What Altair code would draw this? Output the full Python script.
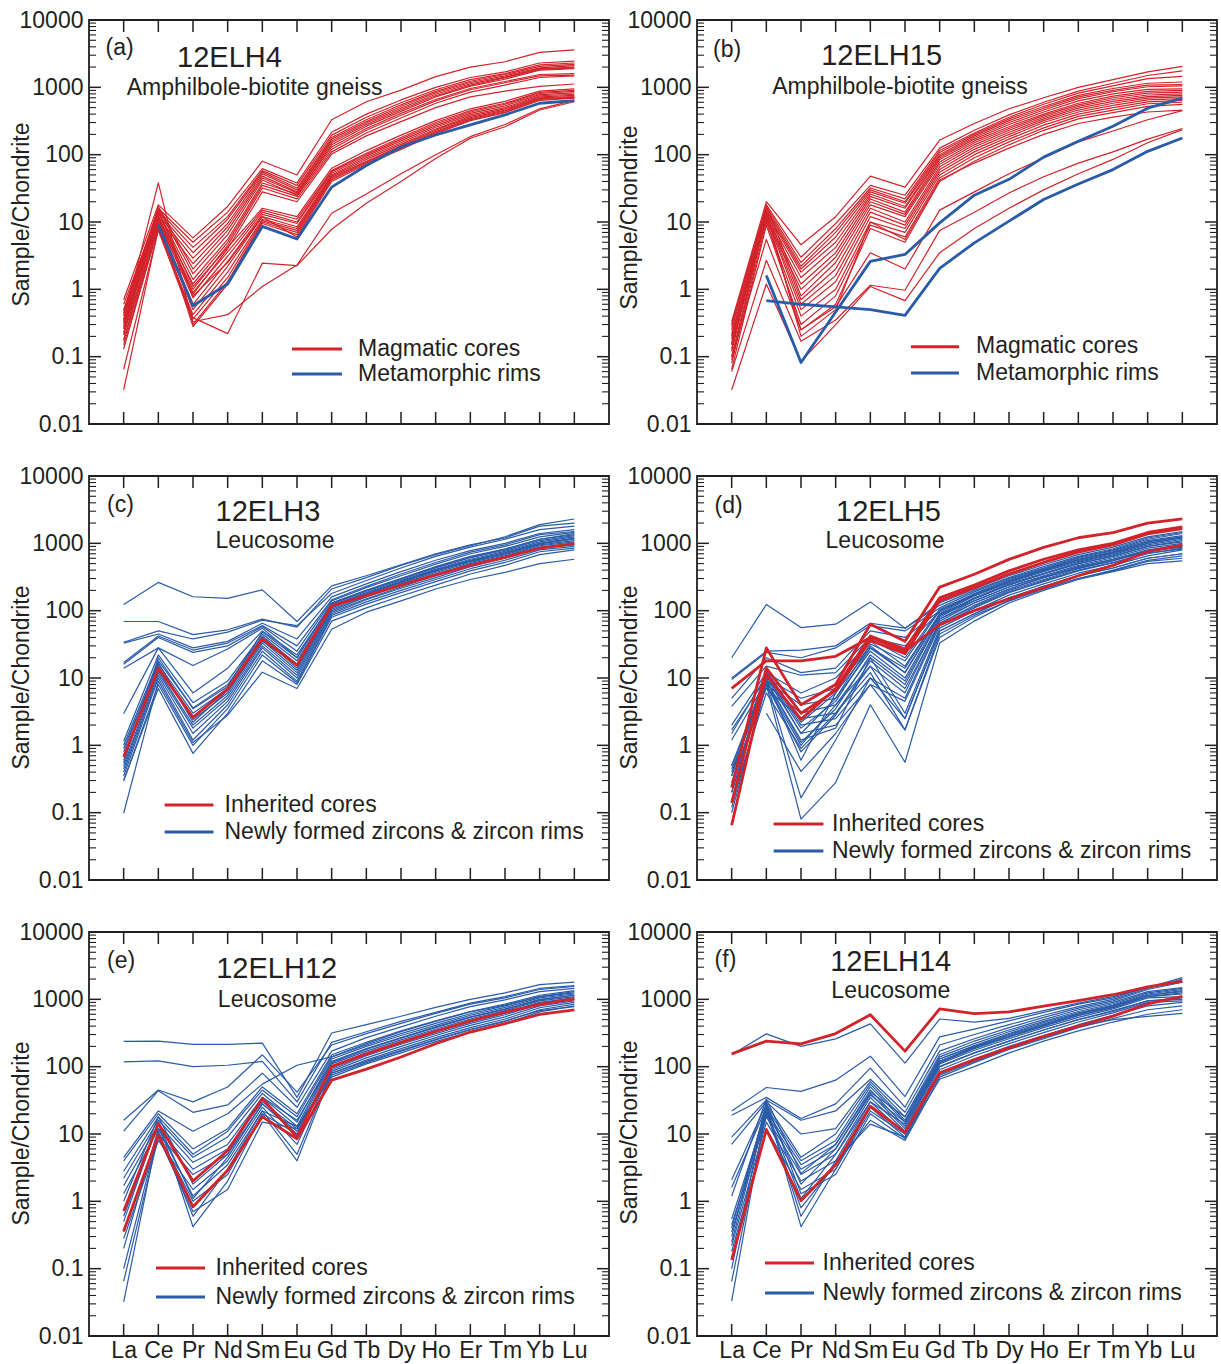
import json
import altair as alt
import pandas as pd

ELEMENTS = ["La", "Ce", "Pr", "Nd", "Sm", "Eu", "Gd", "Tb", "Dy", "Ho", "Er", "Tm", "Yb", "Lu"]
Y_LABELS = [0.01, 0.1, 1, 10, 100, 1000, 10000]
Y_MINOR = [round(m * 10.0 ** d, 6) for d in range(-2, 4) for m in range(2, 10)]

# ---------------- (a) 12ELH4 ----------------
A_RED = [
    [0.70, 18, 5.8, 17, 80, 50, 330, 610, 910, 1440, 2000, 2400, 3300, 3600],
    [0.48, 16, 5.0, 14, 62, 38, 215, 400, 650, 1000, 1400, 1700, 2300, 2450],
    [0.42, 15, 4.2, 12, 58, 35, 195, 360, 590, 920, 1300, 1600, 2150, 2300],
    [0.36, 14, 3.5, 11, 55, 32, 180, 330, 550, 870, 1230, 1550, 2050, 2200],
    [0.30, 13, 2.9, 9.5, 52, 30, 170, 310, 520, 830, 1180, 1480, 1950, 2100],
    [0.26, 12, 2.4, 8.5, 48, 28, 160, 295, 490, 790, 1130, 1420, 1900, 2000],
    [0.22, 17, 2.0, 7.5, 45, 27, 150, 280, 465, 750, 1080, 1380, 1850, 1950],
    [0.50, 16, 1.7, 6.5, 42, 25, 140, 265, 440, 720, 1040, 1320, 1800, 1900],
    [0.40, 14, 1.4, 5.5, 38, 26, 130, 245, 410, 660, 960, 1220, 1550, 1600],
    [0.33, 12, 1.2, 5.0, 35, 24, 120, 230, 385, 630, 920, 1170, 1480, 1520],
    [0.28, 11, 1.0, 4.5, 32, 22, 110, 210, 350, 580, 850, 1080, 1400, 1480],
    [0.18, 10, 0.85, 4.0, 28, 20, 102, 190, 310, 500, 720, 880, 1030, 1120],
    [0.60, 14, 1.1, 4.2, 16, 12, 63, 115, 195, 320, 480, 620, 880, 950],
    [0.32, 12, 0.9, 3.6, 15, 11, 58, 105, 180, 300, 450, 580, 840, 900],
    [0.26, 11, 0.75, 3.1, 14, 10, 56, 100, 170, 285, 430, 560, 810, 870],
    [0.21, 10, 0.6, 2.6, 13, 9.5, 53, 95, 160, 270, 410, 530, 780, 830],
    [0.17, 9, 0.5, 2.2, 12, 8.5, 50, 90, 150, 255, 390, 500, 750, 790],
    [0.15, 8, 0.42, 1.8, 11, 8, 48, 85, 142, 240, 370, 480, 720, 760],
    [0.13, 8.5, 0.36, 1.5, 10.5, 7.5, 46, 80, 135, 230, 355, 460, 700, 730],
    [0.35, 38, 0.30, 1.3, 10, 7, 44, 78, 130, 220, 340, 445, 680, 710],
    [0.23, 12, 0.28, 1.2, 9.5, 6.5, 42, 75, 125, 212, 330, 430, 660, 700],
    [0.45, 15, 0.8, 2.5, 12, 6, 40, 72, 120, 205, 320, 420, 640, 690],
    [0.065, 7.5, 0.33, 0.42, 1.1, 2.3, 13.5, 26, 52, 100, 185, 280, 480, 640],
    [0.032, 8, 0.38, 0.22, 2.45, 2.25, 7.8, 19, 40, 88, 175, 260, 460, 610],
]
A_BLUE = [
    [None, 9.1, 0.57, 1.2, 8.6, 5.6, 33, 69, 130, 196, 277, 390, 580, 634],
]

# ---------------- (b) 12ELH15 ----------------
B_RED = [
    [0.33, 20, 4.6, 12, 48, 33, 165, 290, 480, 700, 1000, 1300, 1700, 2050],
    [0.30, 18, 3.0, 9.5, 35, 25, 125, 230, 390, 600, 880, 1150, 1500, 1750],
    [0.28, 17, 2.5, 8, 32, 22, 115, 210, 360, 560, 820, 1050, 1350, 1450],
    [0.25, 16, 2.2, 7, 30, 20, 108, 200, 340, 520, 760, 960, 1150, 1200],
    [0.22, 15, 2.0, 6, 28, 19, 100, 190, 320, 490, 720, 900, 1080, 1100],
    [0.20, 14, 1.8, 5, 26, 17, 95, 180, 300, 460, 680, 860, 1020, 1050],
    [0.18, 13, 1.5, 4.2, 24, 16, 90, 170, 280, 430, 630, 800, 930, 950],
    [0.16, 12, 1.2, 3.5, 22, 14, 85, 160, 260, 400, 580, 740, 870, 900],
    [0.15, 11, 1.0, 3.0, 20, 13, 78, 150, 245, 380, 550, 700, 820, 850],
    [0.13, 18, 0.8, 2.5, 18, 12, 72, 140, 230, 360, 520, 660, 770, 800],
    [0.12, 15, 0.7, 2.0, 16, 10, 66, 130, 215, 340, 490, 620, 730, 760],
    [0.10, 13, 0.6, 1.6, 14, 9, 60, 120, 200, 320, 460, 580, 690, 720],
    [0.09, 12, 0.5, 1.3, 12, 8, 55, 110, 185, 300, 430, 540, 650, 680],
    [0.08, 10, 0.4, 1.0, 10, 7, 50, 100, 170, 275, 400, 500, 610, 640],
    [0.065, 9, 0.3, 0.8, 9, 6, 45, 90, 155, 250, 370, 460, 570, 600],
    [0.20, 11, 0.25, 0.6, 8, 5, 40, 80, 140, 230, 340, 420, 520, 560],
    [0.15, 14, 0.2, 0.5, 10, 5.5, 42, 75, 125, 200, 290, 360, 430, 460],
    [0.10, 5.5, 0.25, 0.55, 3.5, 2.0, 15, 28, 52, 90, 155, 225, 330, 450],
    [0.06, 2.7, 0.17, 0.35, 1.15, 0.97, 7.5, 14, 27, 47, 75, 110, 170, 245],
    [0.032, 1.2, 0.085, 0.3, 1.1, 0.68, 3.5, 8, 16, 30, 52, 85, 150, 235],
]
B_BLUE = [
    [None, 1.6, 0.082, 0.46, 2.6, 3.3, 9.7, 25, 43, 92, 158, 264, 490, 690],
    [None, 0.68, 0.6, 0.55, 0.5, 0.41, 2.05, 4.9, 10.3, 21.6, 36.7, 60, 112, 177],
]

# ---------------- (c) 12ELH3 ----------------
C_BLUE = [
    [123, 263, 161, 152, 204, 69, 234, 330, 480, 700, 950, 1200, 1800, 2000],
    [69, 69, 44, 52, 75, 57, 210, 310, 470, 680, 920, 1250, 1900, 2300],
    [34, 50, 38, 48, 72, 60, 180, 280, 430, 640, 880, 1150, 1600, 1800],
    [33, 45, 28, 35, 65, 38, 160, 250, 380, 560, 780, 1000, 1400, 1600],
    [17, 42, 26, 33, 60, 30, 145, 230, 350, 520, 740, 950, 1350, 1500],
    [16, 40, 24, 30, 58, 25, 140, 220, 330, 490, 700, 900, 1250, 1450],
    [14, 28, 15.3, 27, 55, 20, 130, 200, 300, 450, 640, 820, 1150, 1350],
    [2.95, 28, 6, 14, 50, 22, 125, 195, 290, 430, 610, 790, 1100, 1300],
    [1.15, 22, 4.3, 9, 45, 18, 120, 185, 280, 410, 580, 760, 1050, 1250],
    [1.0, 18, 3.6, 8, 42, 16, 115, 180, 270, 400, 560, 730, 1000, 1200],
    [0.9, 16, 3.0, 7, 40, 14, 110, 175, 260, 390, 540, 700, 980, 1150],
    [0.6, 15, 2.4, 6, 36, 13, 105, 165, 250, 370, 520, 680, 950, 1100],
    [0.5, 13, 2.0, 5.5, 33, 12, 100, 160, 240, 350, 500, 650, 920, 1050],
    [0.45, 12, 1.8, 5, 30, 11, 95, 150, 225, 330, 470, 620, 880, 1000],
    [0.4, 11, 1.5, 4.5, 28, 10, 90, 145, 215, 310, 450, 600, 850, 950],
    [0.35, 10, 1.2, 4, 25, 9, 85, 135, 200, 290, 420, 560, 800, 900],
    [0.3, 8, 1.0, 3.5, 22, 8.5, 80, 125, 185, 270, 390, 520, 750, 850],
    [0.3, 7, 0.76, 3.0, 18, 8, 70, 110, 165, 240, 350, 470, 680, 800],
    [0.098, 9, 1.1, 2.8, 12.2, 7, 53, 95, 140, 210, 290, 370, 500, 580],
    [0.55, 20, 3.5, 7.5, 48, 20, 130, 200, 300, 440, 620, 820, 1150, 1400],
    [0.8, 17, 2.2, 6.5, 35, 16, 112, 175, 265, 390, 550, 720, 1000, 1180],
]
C_RED = [
    [0.67, 14, 2.6, 6.9, 38, 15.5, 118, 167, 240, 340, 470, 620, 850, 990],
]

# ---------------- (d) 12ELH5 ----------------
D_BLUE = [
    [20, 123, 56, 63, 135, 55, 130, 210, 330, 480, 680, 880, 1250, 1500],
    [10, 25, 26, 30, 65, 55, 120, 200, 310, 450, 640, 830, 1200, 1450],
    [9.5, 24, 20, 28, 60, 50, 110, 190, 300, 430, 620, 800, 1150, 1400],
    [5, 20, 12, 14, 50, 40, 100, 180, 290, 420, 600, 780, 1100, 1300],
    [3.8, 15, 11, 12, 40, 30, 95, 170, 270, 400, 570, 740, 1050, 1250],
    [2.0, 12, 6, 10, 35, 15, 90, 165, 260, 380, 540, 700, 1000, 1200],
    [1.7, 10, 5, 7, 30, 12, 85, 155, 250, 360, 520, 680, 950, 1150],
    [1.2, 9, 4, 5, 25, 10, 80, 150, 240, 350, 500, 650, 900, 1100],
    [0.5, 8, 3, 4, 20, 8, 75, 140, 225, 330, 470, 610, 850, 1000],
    [0.45, 7, 2.5, 3, 15, 6, 70, 130, 210, 310, 440, 580, 800, 950],
    [0.35, 12, 2, 2.5, 10, 5, 65, 120, 200, 290, 420, 550, 760, 900],
    [0.25, 10, 1.5, 2, 8, 4.5, 60, 110, 185, 270, 390, 510, 700, 850],
    [0.2, 9, 1.2, 1.8, 20, 3, 55, 100, 170, 250, 360, 470, 650, 800],
    [0.2, 9, 0.166, 1.2, 10, 2.5, 50, 90, 155, 230, 330, 430, 600, 700],
    [0.15, 6, 0.9, 3, 12, 1.7, 45, 85, 140, 210, 300, 400, 560, 650],
    [0.12, 8, 0.08, 0.28, 4, 0.56, 33, 70, 130, 200, 290, 380, 500, 550],
    [None, 3, 0.41, 1.5, 8, 1.7, 40, 80, 140, 210, 300, 390, 540, 600],
    [0.4, 10, 0.6, 6, 28, 12, 85, 140, 225, 320, 450, 580, 780, 900],
    [0.5, 11, 1.5, 5, 32, 18, 100, 170, 270, 390, 560, 720, 1000, 1200],
    [0.35, 13, 2.2, 6, 38, 20, 105, 175, 280, 410, 580, 750, 1050, 1250],
    [1.5, 11, 1.8, 4.5, 28, 14, 88, 150, 240, 350, 500, 640, 900, 1050],
    [0.28, 9, 1.1, 3.5, 22, 9, 75, 130, 210, 310, 430, 560, 760, 880],
    [0.25, 8, 0.8, 2.8, 18, 7, 65, 115, 190, 280, 400, 520, 720, 820],
    [0.1, 8, 1.0, 4, 15, 2.5, 50, 90, 155, 230, 330, 430, 600, 700],
]
D_RED = [
    [7.0, 18, 18, 21, 40, 25, 62, 100, 150, 220, 330, 470, 750, 950],
    [0.235, 28, 4.0, 8, 63, 35, 224, 347, 578, 870, 1210, 1440, 2000, 2300],
    [0.065, 11.3, 2.43, 7, 42, 27, 155, 240, 390, 580, 800, 1000, 1450, 1750],
    [0.14, 14, 3.0, 6.5, 36, 23, 140, 220, 350, 520, 740, 950, 1380, 1650],
]

# ---------------- (e) 12ELH12 ----------------
E_BLUE = [
    [238, 240, 214, 214, 224, 35, 316, 420, 560, 760, 1000, 1250, 1650, 1800],
    [118, 122, 100, 105, 120, 30, 230, 330, 470, 640, 880, 1100, 1450, 1600],
    [16, 45, 30, 50, 150, 42, 210, 310, 440, 620, 850, 1050, 1400, 1550],
    [11, 44, 21, 27, 80, 25, 170, 270, 390, 560, 780, 980, 1300, 1450],
    [4.5, 22, 11, 20, 55, 105, 140, 220, 330, 470, 650, 820, 1100, 1300],
    [4.0, 20, 6, 12, 50, 20, 150, 230, 340, 480, 660, 850, 1150, 1350],
    [2.8, 18, 5, 11, 45, 18, 140, 210, 310, 440, 610, 800, 1100, 1250],
    [2.2, 16, 4.5, 9, 40, 15, 130, 200, 290, 410, 580, 760, 1050, 1200],
    [1.7, 14, 3.8, 7, 35, 13, 120, 185, 270, 390, 550, 720, 1000, 1150],
    [1.3, 12, 3.0, 6, 30, 12, 110, 170, 250, 360, 510, 680, 950, 1100],
    [0.35, 10, 2.5, 5, 28, 10, 100, 160, 235, 340, 480, 640, 900, 1050],
    [0.28, 8, 1.5, 4, 25, 7, 90, 145, 215, 310, 440, 590, 850, 1000],
    [0.2, 12, 1.2, 3.5, 22, 5, 85, 135, 200, 290, 410, 550, 800, 950],
    [0.1, 10, 1.0, 2.5, 20, 4, 80, 125, 185, 270, 380, 510, 750, 900],
    [0.065, 9, 0.7, 1.5, 15, 12, 75, 115, 170, 250, 350, 470, 700, 850],
    [0.032, 11, 0.6, 3, 22, 13, 70, 110, 160, 235, 330, 440, 650, 800],
    [0.5, 15, 0.42, 2, 20, 10, 80, 120, 175, 255, 360, 480, 680, 780],
    [1.0, 18, 1.8, 5, 35, 16, 115, 180, 265, 380, 540, 710, 980, 1150],
    [0.6, 14, 1.1, 4.5, 28, 11, 95, 150, 225, 330, 460, 620, 880, 1000],
]
E_RED = [
    [0.72, 14.3, 2.0, 5.7, 33.6, 9, 101, 155, 230, 335, 480, 645, 840, 1020],
    [0.36, 9.6, 0.83, 2.9, 18, 8.5, 63, 92, 139, 219, 327, 437, 598, 700],
]

# ---------------- (f) 12ELH14 ----------------
F_BLUE = [
    [150, 307, 200, 259, 432, 113, 510, 460, 520, 680, 880, 1100, 1500, 1800],
    [22, 49, 43, 63, 143, 36, 277, 360, 480, 640, 850, 1050, 1500, 2100],
    [19, 35, 17, 28, 95, 25, 210, 300, 420, 580, 780, 1000, 1450, 2000],
    [9, 32, 16, 22, 65, 21, 170, 260, 380, 540, 740, 950, 1400, 1800],
    [7, 30, 10, 12, 60, 18, 150, 240, 350, 500, 700, 900, 1300, 1500],
    [2.1, 28, 4.5, 10, 55, 16, 140, 220, 330, 470, 660, 860, 1250, 1450],
    [1.6, 25, 4.0, 8, 50, 15, 130, 205, 310, 450, 630, 820, 1200, 1400],
    [0.55, 22, 3.5, 7, 45, 13, 120, 195, 290, 420, 600, 780, 1150, 1300],
    [0.45, 20, 3.0, 6, 40, 12, 115, 185, 275, 400, 570, 750, 1100, 1200],
    [0.35, 18, 2.5, 5, 35, 11, 110, 175, 260, 380, 540, 720, 1050, 1100],
    [0.22, 15, 2.0, 4, 30, 10, 100, 160, 240, 350, 500, 680, 950, 1000],
    [0.18, 12, 1.5, 3, 25, 9, 90, 145, 220, 320, 460, 630, 900, 950],
    [0.1, 30, 1.3, 2.5, 20, 8.5, 80, 130, 200, 290, 420, 580, 800, 900],
    [0.065, 20, 0.8, 3.5, 16, 8, 70, 115, 180, 260, 380, 520, 700, 800],
    [0.033, 25, 0.6, 4, 14, 9, 65, 100, 160, 240, 340, 460, 600, 700],
    [0.3, 28, 0.42, 3, 22, 10, 75, 120, 185, 270, 390, 500, 560, 620],
    [0.25, 22, 1.1, 5, 30, 14, 100, 160, 240, 350, 500, 660, 950, 1050],
    [0.4, 26, 1.8, 6, 38, 15, 120, 190, 280, 410, 580, 760, 1100, 1250],
    [1.2, 33, 2.6, 7, 42, 18, 130, 200, 300, 430, 610, 800, 1150, 1350],
]
F_RED = [
    [155, 239, 218, 310, 590, 170, 720, 614, 650, 790, 960, 1170, 1530, 1860],
    [0.135, 11.6, 1.02, 3.5, 25.9, 10.6, 81, 127, 190, 283, 400, 562, 857, 1110],
]

# ---------------- styling ----------------
W, H = 520, 404
RED = "#D2232A"
BLUE = "#2A5BA8"
INK = "#231F20"
FONT = "Liberation Sans"
ANCHOR = pd.DataFrame({"k": [0]})
LABEL_EXPR = "%s[datum.value]" % json.dumps(ELEMENTS)


def to_long(lines):
    rows = []
    for i, vals in enumerate(lines):
        for j, v in enumerate(vals):
            if v is not None:
                rows.append({"sid": i, "pos": j, "val": v})
    return pd.DataFrame(rows)


def xenc(bottom):
    if bottom:
        axis = alt.Axis(values=list(range(14)), labelExpr=LABEL_EXPR, ticks=False, domain=False,
                        grid=False, title=None, labelFont=FONT, labelFontSize=23, labelColor=INK,
                        labelPadding=3, labelAngle=0, labelOverlap=False, labelFlush=False)
    else:
        axis = None
    return alt.X("pos:Q", scale=alt.Scale(domain=[-1, 14], nice=False, zero=False), axis=axis)


def yenc(title_y):
    return alt.Y("val:Q", scale=alt.Scale(type="log", domain=[0.01, 10000], nice=False),
                 axis=alt.Axis(values=Y_LABELS, format="~g", ticks=False, domain=False, grid=False,
                               labelFont=FONT, labelFontSize=23, labelColor=INK, labelPadding=6,
                               labelOverlap=False, labelFlush=False, title="Sample/Chondrite",
                               titleFont=FONT, titleFontSize=23, titleFontWeight="normal",
                               titleColor=INK, titleX=-68, titleY=title_y, titleAngle=-90,
                               titleAlign="center", titleBaseline="middle"))


def text(s, x, y, size, align="left"):
    return alt.Chart(ANCHOR).mark_text(align=align, baseline="alphabetic", font=FONT,
                                       fontSize=size, color=INK).encode(
        x=alt.value(x), y=alt.value(y), text=alt.value(s))


def key(color, x1, x2, y):
    return alt.Chart(ANCHOR).mark_rule(color=color, strokeWidth=3).encode(
        x=alt.value(x1), x2=alt.value(x2), y=alt.value(y))


def panel(cfg):
    b = cfg["bottom"]
    ty = cfg["title_y"]
    layers = [
        alt.Chart(to_long(cfg["thin"])).mark_line(color=cfg["thin_color"], strokeWidth=1.2,
                                                  strokeJoin="round").encode(
            x=xenc(b), y=yenc(ty), detail="sid:N", order="pos:Q"),
        alt.Chart(to_long(cfg["thick"])).mark_line(color=cfg["thick_color"], strokeWidth=2.8,
                                                   strokeJoin="round").encode(
            x=xenc(b), y=yenc(ty), detail="sid:N", order="pos:Q"),
    ]
    major = pd.DataFrame({"val": Y_LABELS})
    minor = pd.DataFrame({"val": Y_MINOR})
    for df, ln, sw in ((major, 12, 1.5), (minor, 7, 1.1)):
        layers.append(alt.Chart(df).mark_rule(color=INK, strokeWidth=sw).encode(
            y=yenc(ty), x=alt.value(0), x2=alt.value(ln)))
        layers.append(alt.Chart(df).mark_rule(color=INK, strokeWidth=sw).encode(
            y=yenc(ty), x=alt.value(W - ln), x2=alt.value(W)))
    xt = pd.DataFrame({"pos": list(range(14))})
    layers.append(alt.Chart(xt).mark_rule(color=INK, strokeWidth=1.5).encode(
        x=xenc(b), y=alt.value(0), y2=alt.value(12)))
    layers.append(alt.Chart(xt).mark_rule(color=INK, strokeWidth=1.5).encode(
        x=xenc(b), y=alt.value(H - 12), y2=alt.value(H)))
    lx, ly = cfg["letter_pos"]
    layers.append(text(cfg["letter"], lx, ly, 23))
    nx, ny = cfg["name_pos"]
    layers.append(text(cfg["name"], nx, ny, 29, "center"))
    rx, ry = cfg["rock_pos"]
    layers.append(text(cfg["rock"], rx, ry, 23, "center"))
    kx1, kx2 = cfg["key_x"]
    ky1, ky2 = cfg["key_y"]
    layers.append(key(RED, kx1, kx2, ky1))
    layers.append(key(BLUE, kx1, kx2, ky2))
    layers.append(text(cfg["labels"][0], cfg["key_text_x"], ky1 + 6.5, 23))
    layers.append(text(cfg["labels"][1], cfg["key_text_x"], ky2 + 6.5, 23))
    return alt.layer(*layers).properties(width=W, height=H)


GNEISS = ["Magmatic cores", "Metamorphic rims"]
LEUCO = ["Inherited cores", "Newly formed zircons & zircon rims"]

PANELS = [
    dict(letter="(a)", name="12ELH4", rock="Amphilbole-biotite gneiss", thin=A_RED, thick=A_BLUE,
         thin_color=RED, thick_color=BLUE, labels=GNEISS, bottom=False, title_y=194,
         letter_pos=(16.5, 35), name_pos=(140.5, 46.5), rock_pos=(165.6, 75),
         key_x=(203, 253), key_y=(329, 354), key_text_x=269),
    dict(letter="(b)", name="12ELH15", rock="Amphilbole-biotite gneiss", thin=B_RED, thick=B_BLUE,
         thin_color=RED, thick_color=BLUE, labels=GNEISS, bottom=False, title_y=197,
         letter_pos=(16, 36.7), name_pos=(184.6, 45), rock_pos=(203, 74),
         key_x=(214, 262), key_y=(326.7, 353), key_text_x=279),
    dict(letter="(c)", name="12ELH3", rock="Leucosome", thin=C_BLUE, thick=C_RED,
         thin_color=BLUE, thick_color=RED, labels=LEUCO, bottom=False, title_y=201,
         letter_pos=(18, 36), name_pos=(179, 45), rock_pos=(186, 71.5),
         key_x=(75.6, 124.5), key_y=(329, 356), key_text_x=135.5),
    dict(letter="(d)", name="12ELH5", rock="Leucosome", thin=D_BLUE, thick=D_RED,
         thin_color=BLUE, thick_color=RED, labels=LEUCO, bottom=False, title_y=201,
         letter_pos=(17.5, 36.7), name_pos=(191.5, 45), rock_pos=(188, 71.5),
         key_x=(76.6, 126.4), key_y=(348, 375), key_text_x=135),
    dict(letter="(e)", name="12ELH12", rock="Leucosome", thin=E_BLUE, thick=E_RED,
         thin_color=BLUE, thick_color=RED, labels=LEUCO, bottom=True, title_y=201,
         letter_pos=(18, 36.3), name_pos=(187.7, 46.3), rock_pos=(188.3, 74.7),
         key_x=(67, 116), key_y=(336, 365), key_text_x=126.5),
    dict(letter="(f)", name="12ELH14", rock="Leucosome", thin=F_BLUE, thick=F_RED,
         thin_color=BLUE, thick_color=RED, labels=LEUCO, bottom=True, title_y=200,
         letter_pos=(17.6, 35.3), name_pos=(193.7, 39), rock_pos=(193.8, 65.5),
         key_x=(68, 117), key_y=(331, 361), key_text_x=125.6),
]

chart = alt.concat(*[panel(p) for p in PANELS], columns=2,
                   spacing={"row": 52, "column": 88}, bounds="flush").properties(
    padding={"left": 9, "top": 8, "right": 0, "bottom": 0},
    background="white",
).configure_view(stroke=INK, strokeWidth=1.8)

chart.save("out.html", embed_options={"renderer": "svg", "actions": False})
